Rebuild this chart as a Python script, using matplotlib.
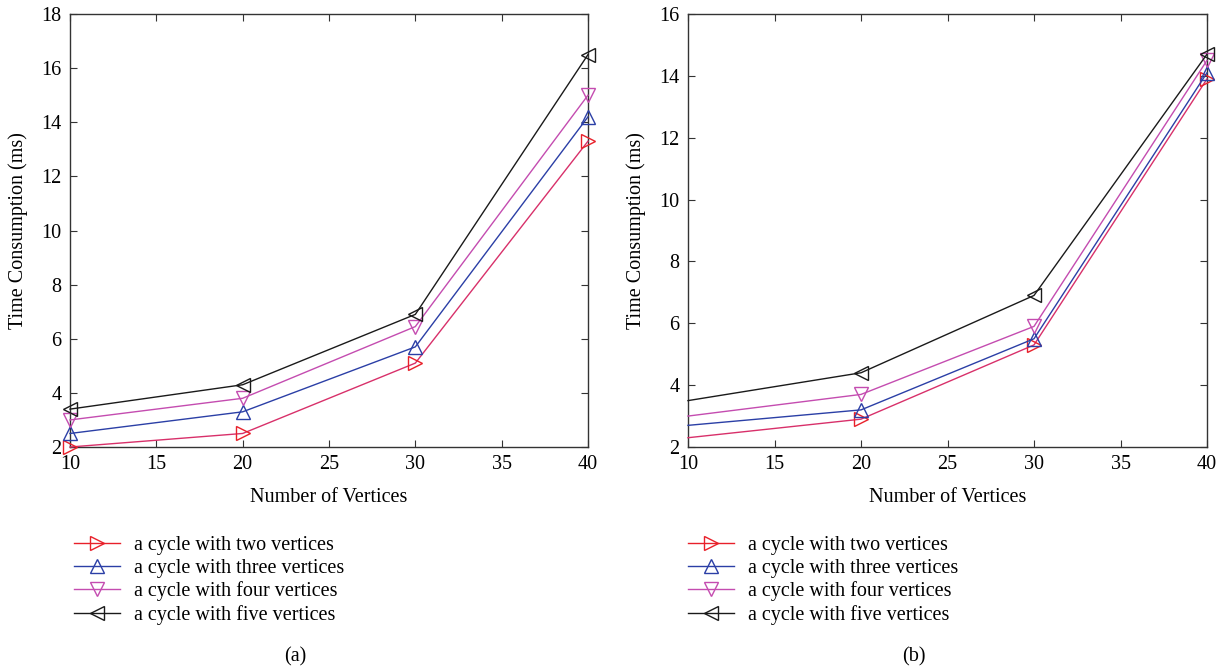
import numpy as np
import matplotlib.pyplot as plt

plt.rcParams['font.family'] = ['Liberation Serif', 'DejaVu Serif']
plt.rcParams['font.size'] = 14.5

# --- dados ---
vertices = [10, 20, 30, 40]
series_names = ["a cycle with two vertices", "a cycle with three vertices",
                "a cycle with four vertices", "a cycle with five vertices"]

# (a)
a_two = [2.0, 2.5, 5.1, 13.3]
a_three = [2.5, 3.3, 5.7, 14.2]
a_four = [3.0, 3.8, 6.45, 15.0]
a_five = [3.4, 4.3, 6.9, 16.5]

# (b)
b_two = [2.3, 2.9, 5.3, 13.9]
b_three = [2.7, 3.2, 5.5, 14.1]
b_four = [3.0, 3.7, 5.9, 14.5]
b_five = [3.5, 4.4, 6.9, 14.7]

cores = ['#e8202a', '#2b3fa6', '#c44cb0', '#1a1a1a']
linhas = ['#d8306a', '#2b3fa6', '#c44cb0', '#1a1a1a']
marcadores = ['>', '^', 'v', '<']

fig = plt.figure(figsize=(12.25, 6.71), dpi=100)
W, H = 1225, 671
FS = 14.5


def painel(rect, dados, ylim, yticks, legenda_xy, letra_xy, letra, marcas):
    ax = fig.add_axes(rect)
    handles = []
    for vals, cor, lc, m, nome in zip(dados, cores, linhas, marcadores, series_names):
        ax.plot(vertices, vals, color=lc, lw=1.0, marker=m, markersize=10,
                markerfacecolor='none', markeredgecolor=cor, markeredgewidth=1.0,
                markevery=marcas, clip_on=False, zorder=3)
        h, = ax.plot([], [], color=cor, lw=1.0, marker=m, markersize=10,
                     markerfacecolor='none', markeredgecolor=cor, label=nome)
        handles.append(h)
    ax.set_xlim(10, 40)
    ax.set_ylim(*ylim)
    ax.set_xticks([10, 15, 20, 25, 30, 35, 40])
    ax.set_yticks(yticks)
    ax.tick_params(direction='in', top=True, right=True, length=5, width=0.8,
                   labelsize=FS, color='#333333', pad=6)
    for s in ax.spines.values():
        s.set_linewidth(1.0)
        s.set_color('#333333')
    ax.set_xlabel("Number of Vertices", fontsize=FS, labelpad=10)
    ax.set_ylabel("Time Consumption (ms)", fontsize=FS, labelpad=10)
    fig.legend(handles, series_names, loc='upper left', bbox_to_anchor=legenda_xy,
               frameon=False, fontsize=FS, handlelength=2.3, labelspacing=0.18,
               handletextpad=0.7, borderaxespad=0, borderpad=0)
    fig.text(letra_xy[0], letra_xy[1], letra, ha='center', va='center', fontsize=FS)
    return ax


painel([70 / W, (671 - 447) / H, 518 / W, 433 / H],
       [a_two, a_three, a_four, a_five], (2, 18), [2, 4, 6, 8, 10, 12, 14, 16, 18],
       (74 / W, 1 - 536 / H), (295 / W, 1 - 657 / H), "(a)", [0, 1, 2, 3])

painel([688 / W, (671 - 447) / H, 519 / W, 433 / H],
       [b_two, b_three, b_four, b_five], (2, 16), [2, 4, 6, 8, 10, 12, 14, 16],
       (688 / W, 1 - 536 / H), (914 / W, 1 - 657 / H), "(b)", [1, 2, 3])

fig.savefig("out.png", dpi=100)
